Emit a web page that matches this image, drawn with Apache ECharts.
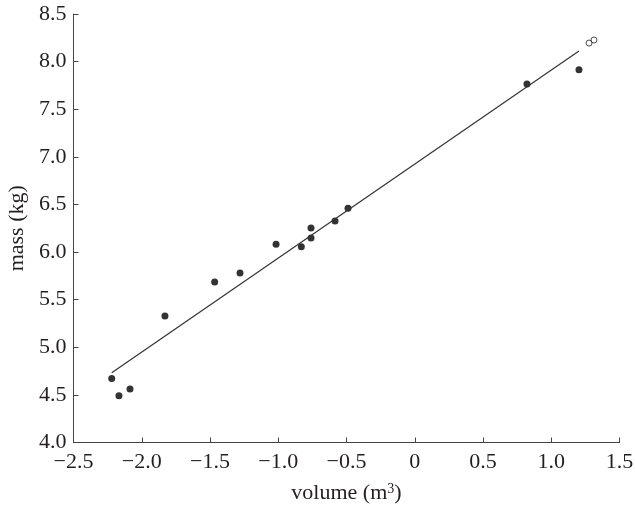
<!DOCTYPE html>
<html>
<head>
    <meta charset="UTF-8">
    <script src="https://cdn.jsdelivr.net/npm/echarts@6/dist/echarts.min.js"></script>
    <style>
        html, body { margin: 0; padding: 0; background: #fff; }
        #main { width: 635px; height: 508px; }
    </style>
</head>
<body>
<div id="main"></div>
<script type="text/javascript">
    // measured points (volume, mass)
    var volume = [-2.220, -2.167, -2.086, -1.830, -1.466, -1.280, -1.016, -0.831, -0.760, -0.760, -0.584, -0.489, 0.822, 1.203];
    var mass = [4.673, 4.491, 4.561, 5.328, 5.685, 5.779, 6.081, 6.056, 6.252, 6.147, 6.326, 6.459, 7.765, 7.915];
    // the two open markers at the top right
    var openVolume = [1.277, 1.313];
    var openMass = [8.195, 8.227];
    // fitted line end points
    var fitVolume = [-2.220, 1.203];
    var fitMass = [4.732, 8.111];
    var xTickLabels = ['\u22122.5', '\u22122.0', '\u22121.5', '\u22121.0', '\u22120.5', '0', '0.5', '1.0', '1.5'];
    var yTickLabels = ['4.0', '4.5', '5.0', '5.5', '6.0', '6.5', '7.0', '7.5', '8.0', '8.5'];

    function pairs(xs, ys) {
        var out = [];
        for (var i = 0; i < xs.length; i++) {
            out.push([xs[i], ys[i]]);
        }
        return out;
    }

    var font = 'Liberation Serif';
    var myChart = echarts.init(document.getElementById('main'), null, {renderer: 'canvas'});
    var option = {
        animation: false,
        grid: {
            left: 73.5,
            right: 15.5,
            top: 14,
            bottom: 65.5,
            containLabel: false,
            outerBoundsMode: 'none'
        },
        xAxis: {
            type: 'value',
            min: -2.5,
            max: 1.5,
            interval: 0.5,
            name: 'volume (m{sup|3})',
            nameLocation: 'middle',
            nameGap: 40,
            nameTextStyle: {
                fontFamily: font, fontSize: 22, color: '#231f20',
                rich: {
                    sup: {fontFamily: font, fontSize: 14, color: '#231f20', verticalAlign: 'top', padding: [0, 0, 8, 0]}
                }
            },
            splitLine: {show: false},
            axisLine: {onZero: false, lineStyle: {color: '#444', width: 1}},
            axisTick: {inside: true, length: 5, lineStyle: {color: '#444'}},
            axisLabel: {
                fontFamily: font,
                fontSize: 22,
                color: '#231f20',
                margin: 9,
                formatter: function (v) {
                    return xTickLabels[Math.round((v + 2.5) / 0.5)];
                }
            }
        },
        yAxis: {
            type: 'value',
            min: 4.0,
            max: 8.5,
            interval: 0.5,
            name: 'mass (kg)',
            nameLocation: 'middle',
            nameGap: 44,
            nameTextStyle: {fontFamily: font, fontSize: 22, color: '#231f20'},
            splitLine: {show: false},
            axisLine: {show: true, onZero: false, lineStyle: {color: '#444', width: 1}},
            axisTick: {show: true, inside: true, length: 5, lineStyle: {color: '#444'}},
            axisLabel: {
                fontFamily: font,
                fontSize: 22,
                color: '#231f20',
                margin: 7,
                formatter: function (v) {
                    return yTickLabels[Math.round((v - 4.0) / 0.5)];
                }
            }
        },
        series: [
            {
                type: 'line',
                data: pairs(fitVolume, fitMass),
                showSymbol: false,
                symbol: 'none',
                lineStyle: {color: '#333', width: 1.2}
            },
            {
                type: 'scatter',
                data: pairs(volume, mass),
                symbol: 'circle',
                symbolSize: 7,
                itemStyle: {color: '#000'}
            },
            {
                type: 'scatter',
                data: pairs(openVolume, openMass),
                symbol: 'circle',
                symbolSize: 6,
                itemStyle: {color: 'rgba(255,255,255,0)', borderColor: '#222', borderWidth: 1}
            }
        ]
    };
    myChart.setOption(option);
</script>
</body>
</html>
